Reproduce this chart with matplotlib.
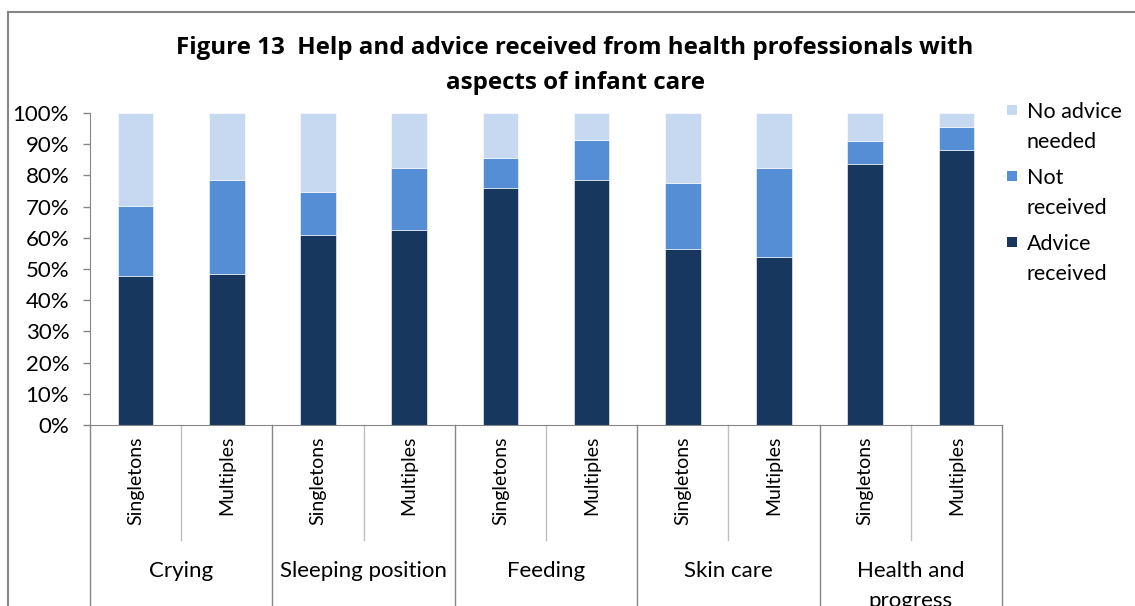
import numpy as np
import matplotlib
matplotlib.use("Agg")
import matplotlib.pyplot as plt
from matplotlib.lines import Line2D
from matplotlib.patches import Rectangle

# data (percent of mothers)
groups = ['Crying', 'Sleeping position', 'Feeding', 'Skin care', 'Health and\nprogress']
subgroups = ['Singletons', 'Multiples']
advice_received = [47.6, 48.3, 61.0, 62.4, 76.1, 78.4, 56.3, 53.9, 83.8, 88.1]
not_received = [22.7, 30.1, 13.7, 19.9, 9.4, 12.9, 21.3, 28.4, 7.2, 7.5]
no_advice_needed = [29.7, 21.6, 25.3, 17.7, 14.5, 8.7, 22.4, 17.7, 9.0, 4.4]
legend_labels = ['No advice\nneeded', 'Not\nreceived', 'Advice\nreceived']

c_dark = '#17375E'
c_mid = '#558ED5'
c_light = '#C6D9F1'
grey = '#868686'

plt.rcParams['font.family'] = ['Lato', 'DejaVu Sans']

W, H = 1135, 606
fig = plt.figure(figsize=(W/100, H/100), dpi=100)

# plot area in pixels
x0, x1 = 90, 1002
y_top, y_bot = 113, 425
ax = fig.add_axes([x0/W, 1-y_bot/H, (x1-x0)/W, (y_bot-y_top)/H])

n = len(advice_received)
x = np.arange(n)
a = np.array(advice_received)
b = np.array(not_received)
c = np.array(no_advice_needed)
bw = 0.39
ax.bar(x, a, bw, color=c_dark, edgecolor='white', linewidth=0.4)
ax.bar(x, b, bw, bottom=a, color=c_mid, edgecolor='white', linewidth=0.4)
ax.bar(x, c, bw, bottom=a+b, color=c_light, edgecolor='white', linewidth=0.4)

ax.set_xlim(-0.5, n-0.5)
ax.set_ylim(0, 100)
ax.set_yticks(np.arange(0, 101, 10))
ax.set_yticklabels(['%d%%' % v for v in range(0, 101, 10)], fontsize=16, color='black')
ax.tick_params(axis='y', length=5, color=grey, width=1, pad=10)

ax.set_xticks(x)
ax.set_xticklabels(subgroups*len(groups), rotation=90, fontsize=14, va='top')
ax.tick_params(axis='x', length=0, pad=8)

for s in ['top', 'right']:
    ax.spines[s].set_visible(False)
ax.spines['left'].set_color(grey)
ax.spines['bottom'].set_color(grey)

# separators of the two level category axis
tr = ax.get_xaxis_transform()
h_ax = y_bot - y_top
inner = -(540 - y_bot)/h_ax
outer = -(620 - y_bot)/h_ax
for i in range(n+1):
    xs = i - 0.5
    low = outer if i % 2 == 0 else inner
    ax.add_line(Line2D([xs, xs], [0, low], transform=tr, color=grey if i % 2 == 0 else '#BFBFBF',
                       lw=1, clip_on=False))

for g, name in enumerate(groups):
    ax.text(2*g+0.5, -(561 - y_bot)/h_ax, name, transform=tr, ha='center', va='top',
            fontsize=16, linespacing=1.6)

# title
fig.text(575/W, 1-48/H, 'Figure 13  Help and advice received from health professionals with',
         ha='center', va='center', fontsize=17.4, fontweight='bold', family='Open Sans')
fig.text(575/W, 1-83/H, 'aspects of infant care',
         ha='center', va='center', fontsize=17.4, fontweight='bold', family='Open Sans')

# legend, drawn by hand
legend_colors = [c_light, c_mid, c_dark]
for k, (lab, col) in enumerate(zip(legend_labels, legend_colors)):
    yk = 110 + 66*k
    fig.add_artist(Rectangle((1007/W, 1-(yk+5)/H), 10/W, 10/H, transform=fig.transFigure,
                             facecolor=col, edgecolor='none'))
    fig.text(1027/W, 1-(yk-8)/H, lab, ha='left', va='top', fontsize=15.5, linespacing=1.65)

# chart border (cropped at right and bottom)
fig.add_artist(Line2D([8/W, 1], [1-12/H, 1-12/H], transform=fig.transFigure, color=grey, lw=1.5))
fig.add_artist(Line2D([8/W, 8/W], [0, 1-12/H], transform=fig.transFigure, color=grey, lw=1.5))

plt.savefig('out.png', dpi=100)
